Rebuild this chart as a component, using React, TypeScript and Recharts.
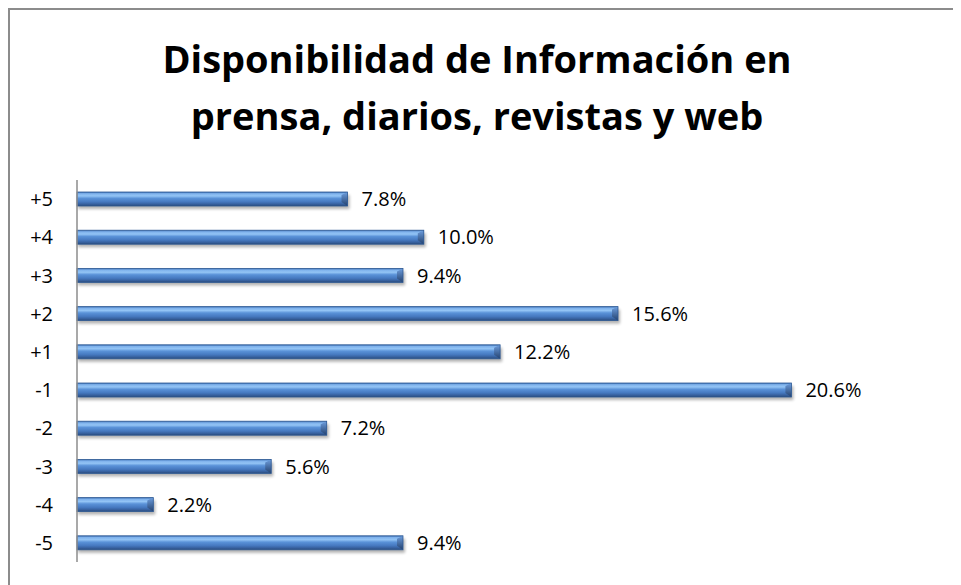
import React from 'react';
import { BarChart, Bar, XAxis, YAxis, LabelList } from 'recharts';

const categories = ['+5', '+4', '+3', '+2', '+1', '-1', '-2', '-3', '-4', '-5'];
const values = [7.8, 10.0, 9.4, 15.6, 12.2, 20.6, 7.2, 5.6, 2.2, 9.4];
const titleLines = ['Disponibilidad de Información en', 'prensa, diarios, revistas y web'];

const data = categories.map((c, i) => ({ cat: c, value: values[i] }));

const FONT = '"Open Sans", "Noto Sans", sans-serif';

const BarShape = (props: any) => {
  const { x, y, width, height } = props;
  if (!width || width <= 0) return null;
  const b = Math.min(6, width / 2);
  return (
    <g>
      <rect x={x + 1} y={y + 3} width={width + 1} height={height} fill="#000" opacity={0.3} filter="url(#barShadow)" />
      <rect x={x} y={y} width={width} height={height} fill="url(#barGrad)" />
      <polygon
        points={`${x + width - b},${y + 3} ${x + width},${y} ${x + width},${y + height} ${x + width - b},${y + height - 4}`}
        fill="url(#endGrad)"
      />
      <rect x={x} y={y} width={width} height={height} fill="none" stroke="#2f5a94" strokeWidth={0.8} />
    </g>
  );
};

export default function App() {
  return (
    <div
      style={{
        position: 'relative',
        width: 953,
        height: 577,
        borderLeft: '2px solid #8c8c8c',
        borderTop: '2px solid #8c8c8c',
        background: '#fff',
        overflow: 'hidden',
      }}
    >
      <div
        style={{
          position: 'absolute',
          left: 0,
          top: 20,
          width: 934,
          textAlign: 'center',
          fontFamily: FONT,
          fontWeight: 700,
          fontSize: 38,
          lineHeight: '57px',
          color: '#000',
          whiteSpace: 'nowrap',
        }}
      >
        <div>{titleLines[0]}</div>
        <div>{titleLines[1]}</div>
      </div>
      <div style={{ position: 'absolute', left: 0, top: 0 }}>
        <BarChart
          width={951}
          height={575}
          data={data}
          layout="vertical"
          margin={{ top: 170, right: 17, bottom: 23, left: 0 }}
          barCategoryGap={0}
        >
          <defs>
            <linearGradient id="barGrad" x1="0" y1="0" x2="0" y2="1">
              <stop offset="0%" stopColor="#3b6db2" />
              <stop offset="12%" stopColor="#7fb2ec" />
              <stop offset="28%" stopColor="#93c4f5" />
              <stop offset="45%" stopColor="#5a92d8" />
              <stop offset="70%" stopColor="#4679c0" />
              <stop offset="88%" stopColor="#365f9c" />
              <stop offset="100%" stopColor="#2a4a7a" />
            </linearGradient>
            <linearGradient id="endGrad" x1="0" y1="0" x2="0" y2="1">
              <stop offset="0%" stopColor="#6e9ede" />
              <stop offset="100%" stopColor="#23416e" />
            </linearGradient>
            <filter id="barShadow" x="-5%" y="-50%" width="110%" height="200%">
              <feGaussianBlur stdDeviation="1.8" />
            </filter>
          </defs>
          <XAxis type="number" domain={[0, 25]} hide />
          <YAxis
            type="category"
            dataKey="cat"
            width={67}
            axisLine={{ stroke: '#8c8c8c', strokeWidth: 1.5 }}
            tickLine={false}
            tickSize={0}
            tickMargin={24}
            tick={{ fill: '#000', fontSize: 20, fontFamily: FONT }}
            interval={0}
          />
          <Bar dataKey="value" barSize={14} shape={<BarShape />} isAnimationActive={false}>
            <LabelList
              dataKey="value"
              position="right"
              offset={14}
              formatter={(v: any) => `${Number(v).toFixed(1)}%`}
              style={{ fill: '#000', fontSize: 20, fontFamily: FONT }}
            />
          </Bar>
        </BarChart>
      </div>
    </div>
  );
}
